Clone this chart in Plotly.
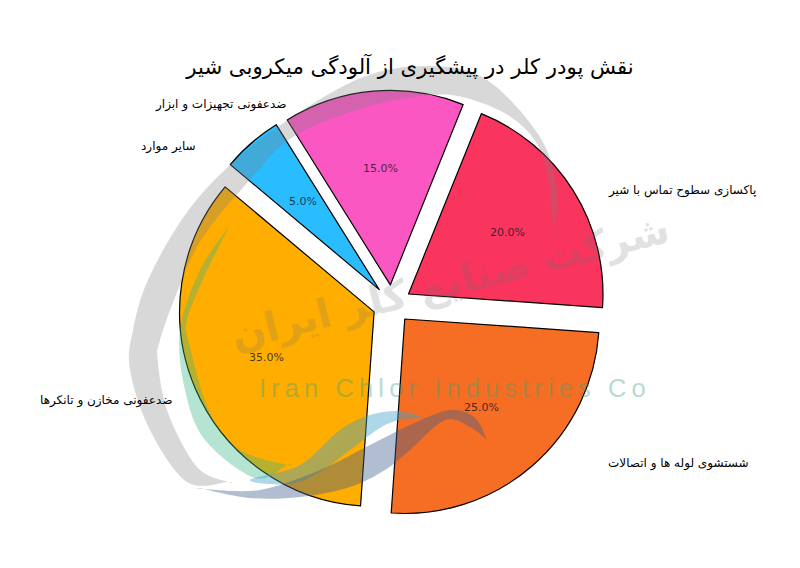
import math
import plotly.graph_objects as go

# ---- data ----
categories = ["پاکسازی سطوح تماس با شیر", "شستشوی لوله ها و اتصالات", "ضدعفونی مخازن و تانکرها", "سایر موارد", "ضدعفونی تجهیزات و ابزار"]
values = [20, 25, 35, 5, 15]
colors = ["#F9345D", "#F56E23", "#FFAE00", "#29BDFF", "#FB57C3"]
title_text = "نقش پودر کلر در پیشگیری از آلودگی میکروبی شیر"
label_centres = [(682, 190), (678, 463), (106, 400), (168, 146), (220, 104)]

# The page has an 8px body margin, so the figure fills the window inside it.
PAGE = 8
WIN_W, WIN_H = 800, 568
W, H = WIN_W - 2 * PAGE, WIN_H - 2 * PAGE
CX, CY, R, PULL, START = 392, 304.3, 194.5, 0.1, 22
HALF = R * (1 + PULL)


def px(x, y):
    return (x - PAGE) / W, 1 - (y - PAGE) / H


def smooth(points):
    """Closed Catmull-Rom outline through window-pixel points, as an SVG path in paper coords."""
    pts = [px(*p) for p in points]
    n = len(pts)
    out = "M %.5f %.5f" % pts[0]
    for i in range(n):
        p0, p1, p2, p3 = pts[i - 1], pts[i], pts[(i + 1) % n], pts[(i + 2) % n]
        c1 = (p1[0] + (p2[0] - p0[0]) / 6, p1[1] + (p2[1] - p0[1]) / 6)
        c2 = (p2[0] - (p3[0] - p1[0]) / 6, p2[1] - (p3[1] - p1[1]) / 6)
        out += " C %.5f %.5f %.5f %.5f %.5f %.5f" % (*c1, *c2, *p2)
    return out + " Z"


# decorative logo watermark outlines (window pixels); repeated points make the sharp tips
grey_arc = [(228, 482), (228, 482), (187, 482), (150, 430), (130, 370), (133, 330), (148, 280), (185, 215),
            (230, 165), (288, 120), (363, 77), (430, 66), (487, 80), (540, 137), (557, 190),
            (554, 230), (554, 230), (543, 157), (515, 120), (470, 99), (430, 95), (363, 108), (293, 137),
            (248, 182), (203, 237), (180, 285), (160, 340), (158, 363), (168, 413), (197, 467)]
green_arc = [(230, 225), (230, 225), (200, 270), (180, 330), (185, 390), (205, 440), (255, 478), (287, 465), (287, 465),
             (240, 450), (210, 413), (190, 347), (187, 320), (205, 275)]
blue_wave = [(250, 480), (300, 465), (340, 430), (370, 415), (400, 411), (426, 418), (426, 418),
             (400, 420), (380, 428), (350, 450), (320, 472), (290, 484)]
navy_wave = [(203, 489), (203, 489), (260, 490), (320, 470), (370, 445), (410, 425), (450, 410), (475, 418),
             (487, 440), (487, 440), (470, 427), (445, 420), (410, 450), (385, 470), (350, 487), (300, 497), (250, 498)]

shapes = []
for outline, fill, op in [(grey_arc, "#7d7d7d", 0.30), (green_arc, "#35b585", 0.36),
                          (blue_wave, "#3fa0c8", 0.42), (navy_wave, "#3d5a8c", 0.40)]:
    shapes.append(dict(type="path", path=smooth(outline), xref="paper", yref="paper",
                       fillcolor=fill, opacity=op, line=dict(width=0), layer="above"))

fig = go.Figure(go.Pie(
    labels=categories, values=values, sort=False, direction="clockwise", rotation=START,
    pull=[PULL] * len(values),
    marker=dict(colors=colors, line=dict(color="#000000", width=1.2)),
    textinfo="none", hoverinfo="skip", showlegend=False,
    domain=dict(x=[(CX - HALF - PAGE) / W, (CX + HALF - PAGE) / W],
                y=[1 - (CY + HALF - PAGE) / H, 1 - (CY - HALF - PAGE) / H]),
))

annotations = []
for text, (x, y) in zip(categories, label_centres):
    fx, fy = px(x, y)
    annotations.append(dict(text=text, x=fx, y=fy, xref="paper", yref="paper", showarrow=False,
                            xanchor="center", yanchor="middle",
                            font=dict(family="DejaVu Sans", size=12, color="#000000")))

# percentage labels: 0.6 of the radius out from each pulled slice's tip, along its mid-angle
total = sum(values)
running = 0
for v in values:
    mid = math.radians(START + (running + v / 2) / total * 360)
    running += v
    d = R * (0.6 + PULL)
    fx, fy = px(CX + d * math.sin(mid), CY - d * math.cos(mid))
    annotations.append(dict(text=f"{v / total * 100:.1f}%", x=fx, y=fy, xref="paper", yref="paper",
                            showarrow=False, xanchor="center", yanchor="middle",
                            font=dict(family="DejaVu Sans", size=11, color="rgba(20,20,40,0.8)")))

wx, wy = px(450, 282)
annotations.append(dict(text="<b>شرکت صنایع کلر ایران</b>", x=wx, y=wy, xref="paper", yref="paper",
                        showarrow=False, textangle=-14, opacity=0.2, xanchor="center", yanchor="middle",
                        font=dict(family="DejaVu Sans", size=40, color="#6e6e6e")))
ex, ey = px(452, 388)
annotations.append(dict(text="\u2009".join("Iran Chlor Industries Co"), x=ex, y=ey, xref="paper", yref="paper",
                        showarrow=False, opacity=0.36, xanchor="center", yanchor="middle",
                        font=dict(family="Liberation Sans", size=25.5, color="#35a07a")))

tx, ty = px(410, 67)
fig.update_layout(
    width=W, height=H, margin=dict(l=0, r=0, t=0, b=0), paper_bgcolor="white",
    title=dict(text=title_text, x=tx, y=ty, xanchor="center", yanchor="middle", xref="paper", yref="paper",
               font=dict(family="DejaVu Sans", size=21.2, color="#000000")),
    shapes=shapes, annotations=annotations,
)
fig.write_html("out.html")
